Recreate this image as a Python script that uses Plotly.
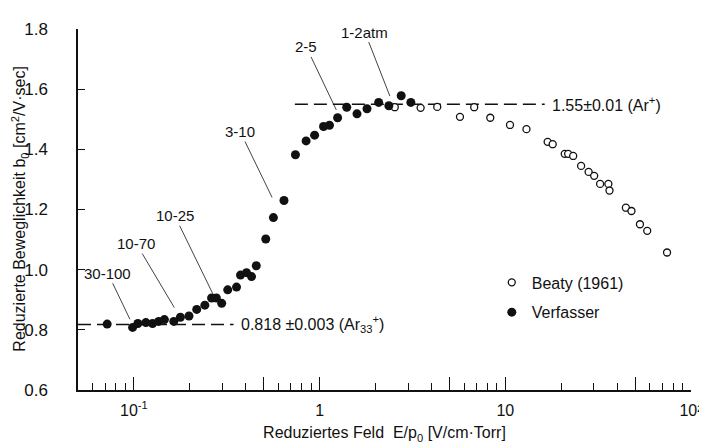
import math
import plotly.graph_objects as go

# ---------------- data ----------------
verf_x = [0.0718, 0.0984, 0.105, 0.116, 0.126, 0.136, 0.146, 0.164, 0.178, 0.198,
          0.218, 0.241, 0.262, 0.278, 0.297, 0.32, 0.357, 0.375, 0.404, 0.43,
          0.456, 0.513, 0.564, 0.643, 0.741, 0.846, 0.94, 1.05, 1.13, 1.25,
          1.40, 1.59, 1.80, 2.08, 2.36, 2.75, 3.10]
verf_y = [0.819, 0.808, 0.821, 0.824, 0.821, 0.828, 0.834, 0.828, 0.842, 0.846,
          0.868, 0.882, 0.906, 0.906, 0.888, 0.933, 0.942, 0.982, 0.990, 0.977,
          1.013, 1.102, 1.173, 1.230, 1.382, 1.428, 1.447, 1.476, 1.480, 1.505,
          1.540, 1.518, 1.535, 1.556, 1.545, 1.578, 1.556]

beaty_x = [2.54, 3.50, 4.30, 5.7, 6.8, 8.3, 10.6, 13.0, 16.9, 18.0, 20.9, 21.8,
           23.2, 25.6, 28.1, 30.1, 32.4, 35.9, 36.4, 44.6, 47.8, 53.1, 58.1, 74.3]
beaty_y = [1.540, 1.538, 1.541, 1.508, 1.540, 1.505, 1.481, 1.467, 1.425, 1.417,
           1.385, 1.385, 1.378, 1.345, 1.325, 1.312, 1.285, 1.285, 1.263, 1.206,
           1.195, 1.151, 1.129, 1.057]

# reference levels (value, x-extent)
low_level = 0.818
low_extent = [0.05, 0.344]
high_level = 1.55
high_extent = [0.736, 16.3]

# pressure-range labels: text, point x, point y
range_labels = ["30-100", "10-70", "10-25", "3-10", "2-5", "1-2atm"]
range_x = [0.0952, 0.165, 0.266, 0.555, 1.23, 2.39]
range_y = [0.835, 0.874, 0.920, 1.240, 1.531, 1.577]

x_tickvals = [0.1, 0.5, 1, 5, 10, 50, 100]
x_ticktext = ["10<sup>-1</sup>", "", "1", "", "10", "", "10²"]
x_minor = [0.06, 0.07, 0.08, 0.09, 0.2, 0.3, 0.4, 0.6, 0.7, 0.8, 0.9,
           2, 3, 4, 6, 7, 8, 9, 20, 30, 40, 60, 70, 80, 90]
y_tickvals = [0.6, 0.8, 1.0, 1.2, 1.4, 1.6, 1.8]

FONT = "Liberation Sans, Arial, sans-serif"
INK = "#111111"

fig = go.Figure()

fig.add_trace(go.Scatter(x=low_extent, y=[low_level] * 2, mode="lines",
                         line=dict(color=INK, width=1.5, dash="13px,6px"),
                         showlegend=False, hoverinfo="skip"))
fig.add_trace(go.Scatter(x=high_extent, y=[high_level] * 2, mode="lines",
                         line=dict(color=INK, width=1.5, dash="13px,6px"),
                         showlegend=False, hoverinfo="skip"))

fig.add_trace(go.Scatter(x=beaty_x, y=beaty_y, mode="markers", name="Beaty (1961)",
                         legendgroup="a",
                         marker=dict(symbol="circle", size=7, color="white",
                                     line=dict(color=INK, width=1.3))))
fig.add_trace(go.Scatter(x=verf_x, y=verf_y, mode="markers", name="Verfasser",
                         legendgroup="b",
                         marker=dict(symbol="circle", size=9, color=INK,
                                     line=dict(width=0))))

# offsets (pixels) of label text from the point
offs = [(-22, -46), (-38, -64), (-38, -78), (-32, -66), (-30, -63), (-25, -64)]
for t, x, y, (ax, ay) in zip(range_labels, range_x, range_y, offs):
    fig.add_annotation(x=math.log10(x), y=y, xref="x", yref="y", text=t, showarrow=True,
                       arrowhead=0, arrowwidth=0.8, arrowcolor=INK, ax=ax, ay=ay,
                       standoff=0, font=dict(family=FONT, size=15, color=INK))

fig.add_annotation(x=math.log10(0.37), y=low_level, xref="x", yref="y", xanchor="left",
                   text="0.818 ±0.003 (Ar<sub>33</sub><sup>+</sup>)", showarrow=False,
                   font=dict(family=FONT, size=16, color=INK))
fig.add_annotation(x=math.log10(17.3), y=high_level, xref="x", yref="y", xanchor="left",
                   text="1.55±0.01 (Ar<sup>+</sup>)", showarrow=False,
                   font=dict(family=FONT, size=16, color=INK))

# y-axis title as a rotated annotation
fig.add_annotation(x=-0.096, y=0.5, xref="paper", yref="paper", xanchor="center",
                   yanchor="middle", textangle=-90, showarrow=False,
                   text="Reduzierte Beweglichkeit b<sub>0</sub> [cm<sup>2</sup>/V·sec]",
                   font=dict(family=FONT, size=16, color=INK))

fig.update_layout(
    width=707, height=445, autosize=False,
    margin=dict(l=70, r=17, t=15, b=63),
    paper_bgcolor="white", plot_bgcolor="white",
    font=dict(family=FONT, size=15, color=INK),
    legend=dict(x=0.675, y=0.345, xanchor="left", yanchor="top",
                bgcolor="rgba(0,0,0,0)", tracegroupgap=6,
                font=dict(family=FONT, size=16, color=INK)),
    xaxis=dict(type="log", range=[-1.30103, 2],
               showline=True, linecolor=INK, linewidth=1.5,
               showgrid=False, zeroline=False,
               tickmode="array", tickvals=x_tickvals, ticktext=x_ticktext,
               ticks="inside", ticklen=13, tickwidth=1, tickcolor=INK,
               ticklabelstandoff=5, ticklabeloverflow="allow",
               minor=dict(tickmode="array", tickvals=x_minor, ticks="inside",
                          ticklen=7, tickwidth=1, tickcolor=INK),
               tickfont=dict(family=FONT, size=16, color=INK),
               title=dict(text="Reduziertes Feld  E/p<sub>0</sub> [V/cm·Torr]",
                          font=dict(family=FONT, size=16, color=INK), standoff=9)),
    yaxis=dict(range=[0.6, 1.8],
               showline=True, linecolor=INK, linewidth=1.5,
               showgrid=False, zeroline=False,
               tickmode="array", tickvals=y_tickvals, tickformat=".1f",
               ticks="inside", ticklen=7, tickwidth=1, tickcolor=INK,
               ticklabelstandoff=25,
               tickfont=dict(family=FONT, size=17, color=INK)),
)

fig.write_html("out.html")
